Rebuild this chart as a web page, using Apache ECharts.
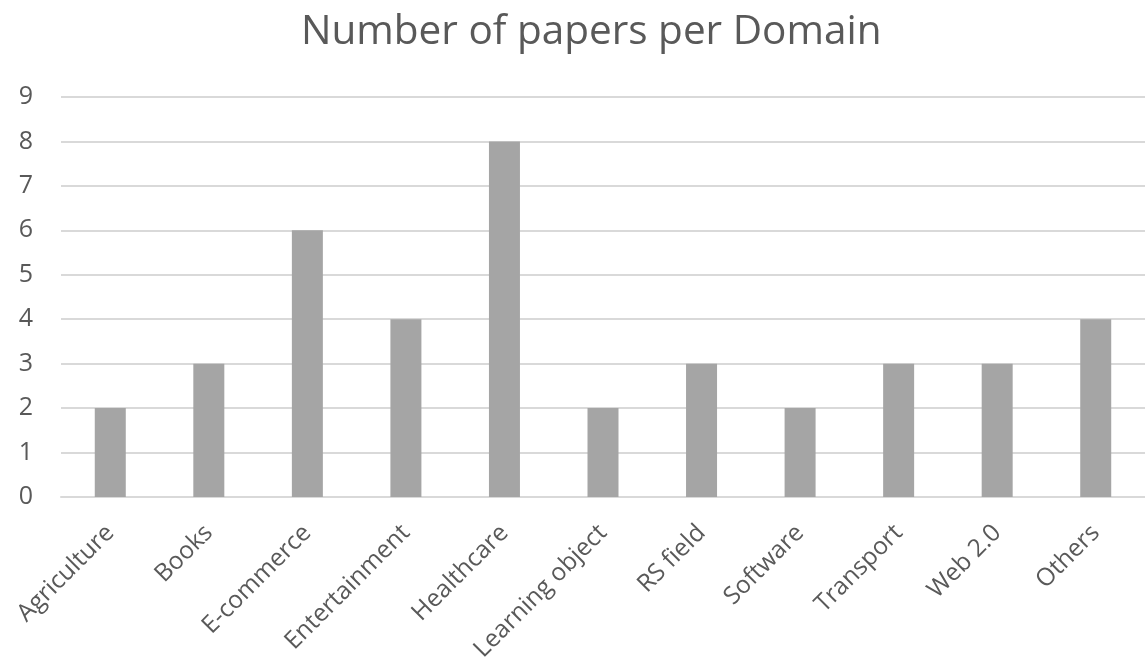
<!DOCTYPE html>
<html>
<head>
<meta charset="utf-8">
<script src="https://cdn.jsdelivr.net/npm/echarts@6/dist/echarts.min.js"></script>
<style>
  html, body { margin: 0; padding: 0; background: #fff; }
  #chart { width: 1145px; height: 670px; }
</style>
</head>
<body>
<div id="chart"></div>
<script>
// Papers counted per application domain
const domains = ['Agriculture', 'Books', 'E-commerce', 'Entertainment', 'Healthcare',
  'Learning object', 'RS field', 'Software', 'Transport', 'Web 2.0', 'Others'];
const paperCounts = [2, 3, 6, 4, 8, 2, 3, 2, 3, 3, 4];
const yTicks = [0, 1, 2, 3, 4, 5, 6, 7, 8, 9];

const textColor = '#595959';
const fontFamily = '"Open Sans", "Noto Sans", sans-serif';

const chart = echarts.init(document.getElementById('chart'));
chart.setOption({
  backgroundColor: '#ffffff',
  animation: false,
  title: {
    text: 'Number of papers per Domain',
    left: 296,
    top: 7,
    textStyle: { color: textColor, fontSize: 40.5, fontWeight: 'normal', fontFamily: fontFamily }
  },
  grid: { left: 61, top: 97, width: 1093, height: 400, containLabel: false },
  xAxis: {
    type: 'category',
    data: domains,
    axisLine: { show: true, lineStyle: { color: '#d9d9d9', width: 2 } },
    axisTick: { show: false },
    axisLabel: {
      rotate: 45,
      margin: 32,
      interval: 0,
      color: textColor,
      fontSize: 24.5,
      fontFamily: fontFamily
    }
  },
  yAxis: {
    type: 'value',
    min: yTicks[0],
    max: yTicks[yTicks.length - 1],
    interval: 1,
    axisLine: { show: false },
    axisTick: { show: false },
    splitLine: { lineStyle: { color: '#d9d9d9', width: 2 } },
    axisLabel: {
      color: textColor,
      fontSize: 25,
      fontFamily: fontFamily,
      margin: 28
    }
  },
  series: [{
    type: 'bar',
    data: paperCounts,
    barWidth: 31,
    itemStyle: { color: '#a5a5a5' }
  }]
});
</script>
</body>
</html>
